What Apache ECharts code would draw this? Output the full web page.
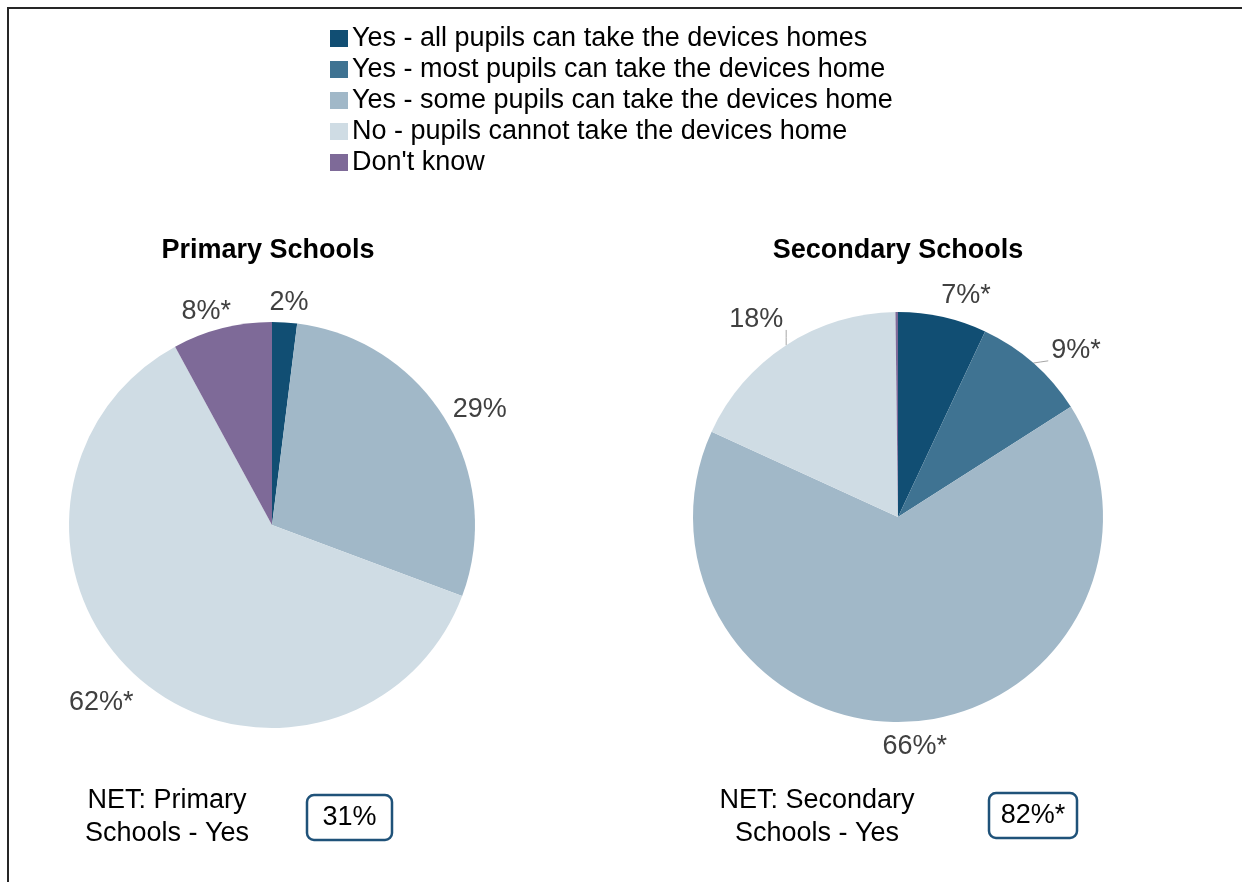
<!DOCTYPE html>
<html>
<head>
<meta charset="utf-8">
<title>Taking devices home</title>
<script src="https://cdn.jsdelivr.net/npm/echarts@6/dist/echarts.min.js"></script>
<style>
  html, body { margin: 0; padding: 0; background: #ffffff; }
  #chart { width: 1242px; height: 882px; }
</style>
</head>
<body>
<div id="chart"></div>
<script>
// Answer categories (shared legend)
const categories = [
  'Yes - all pupils can take the devices homes',
  'Yes - most pupils can take the devices home',
  'Yes - some pupils can take the devices home',
  'No - pupils cannot take the devices home',
  "Don't know"
];

// Percentages per school phase
const primaryValues   = [2, 0, 29, 62, 8];
const secondaryValues = [7, 9, 66, 18, 0.2];

// Data label texts (asterisk = significant difference)
const primaryLabels   = ['2%', '', '29%', '62%*', '8%*'];
const secondaryLabels = ['7%*', '9%*', '66%*', '18%', ''];

// Panel titles and NET summaries
const panelTitles = ['Primary Schools', 'Secondary Schools'];
const netCaptions = ['NET: Primary\nSchools - Yes', 'NET: Secondary\nSchools - Yes'];
const netValues   = ['31%', '82%*'];

// Styling
const sliceColors = ['#114e73', '#3f7392', '#a1b8c8', '#cfdce4', '#7e6a98'];
const FONT = '"Liberation Sans", Arial, Helvetica, sans-serif';

// Layout of each pie: centre, radius, label gap from the rim, label nudges, leader-line flags
const pieLayouts = [
  {
    center: [272, 525], radius: 203,
    gaps: [6, 6, 6, 12, 4],
    nudges: [[3, 1], [0, 0], [3, 9], [-9, -9], [-10, 6]],
    lines: [false, false, false, false, false]
  },
  {
    center: [898, 517], radius: 205,
    gaps: [6, 12, 6, 12, 6],
    nudges: [[18, 3], [17, 17], [1, 3], [-9, 7], [0, 0]],
    lines: [false, true, false, true, false]
  }
];

function midDirections(values) {
  const total = values.reduce((a, b) => a + b, 0);
  let cum = 0;
  return values.map(v => {
    const frac = (cum + v / 2) / total;
    cum += v;
    const t = frac * Math.PI * 2;
    return [Math.sin(t), -Math.cos(t)];
  });
}

function makeSeries(name, values, labels, layout) {
  const dirs = midDirections(values);
  const [cx, cy] = layout.center;
  const r = layout.radius;
  return {
    type: 'pie',
    name: name,
    center: layout.center,
    radius: [0, r],
    startAngle: 90,
    clockwise: true,
    avoidLabelOverlap: false,
    animation: false,
    silent: true,
    itemStyle: { borderWidth: 0 },
    label: {
      show: true,
      position: 'outside',
      fontFamily: FONT,
      fontSize: 27,
      color: '#404040',
      lineHeight: 28
    },
    labelLine: {
      show: false,
      length: 6,
      length2: 6,
      lineStyle: { color: '#a6a6a6', width: 1 }
    },
    labelLayout: function (params) {
      const i = params.dataIndex;
      const d = dirs[i];
      const w = params.labelRect.width;
      const h = params.labelRect.height;
      const support = Math.abs(d[0]) * w / 2 + Math.abs(d[1]) * h / 2;
      const dist = r + layout.gaps[i] + support;
      const lx = cx + d[0] * dist + layout.nudges[i][0];
      const ly = cy + d[1] * dist + layout.nudges[i][1];
      const ex = cx + d[0] * r;
      const ey = cy + d[1] * r;
      const nx = Math.min(Math.max(ex, lx - w / 2 - 3), lx + w / 2 + 3);
      const ny = Math.min(Math.max(ey, ly - h / 2 + 4), ly + h / 2 - 4);
      return {
        x: lx,
        y: ly,
        align: 'center',
        verticalAlign: 'middle',
        labelLinePoints: [[ex, ey], [(ex + nx) / 2, (ey + ny) / 2], [nx, ny]]
      };
    },
    data: categories.map((c, i) => ({
      name: c,
      value: values[i],
      itemStyle: { color: sliceColors[i] },
      label: { show: labels[i] !== '', formatter: labels[i] },
      labelLine: { show: layout.lines[i] }
    }))
  };
}

const netPositions = [
  { captionX: 167, boxX: 307, boxY: 795, boxW: 85, boxH: 45 },
  { captionX: 817, boxX: 989, boxY: 793, boxW: 88, boxH: 45 }
];
const titleX = [268, 898];

const graphics = [
  {
    type: 'rect',
    silent: true,
    shape: { x: 8, y: 8, width: 1300, height: 1000 },
    style: { fill: 'none', stroke: '#262626', lineWidth: 2 }
  }
];

panelTitles.forEach((t, i) => {
  graphics.push({
    type: 'text',
    silent: true,
    x: titleX[i],
    y: 251,
    style: {
      text: t,
      font: 'bold 27px ' + FONT,
      fill: '#000000',
      align: 'center', verticalAlign: 'middle',
      textAlign: 'center', textVerticalAlign: 'middle'
    }
  });
});

netCaptions.forEach((t, i) => {
  const p = netPositions[i];
  graphics.push({
    type: 'text',
    silent: true,
    x: p.captionX,
    y: 817,
    style: {
      text: t,
      font: '27px ' + FONT,
      lineHeight: 33,
      fill: '#000000',
      align: 'center', verticalAlign: 'middle',
      textAlign: 'center', textVerticalAlign: 'middle'
    }
  });
  graphics.push({
    type: 'rect',
    silent: true,
    shape: { x: p.boxX, y: p.boxY, width: p.boxW, height: p.boxH, r: 7 },
    style: { fill: '#ffffff', stroke: '#1f5279', lineWidth: 2.5 }
  });
  graphics.push({
    type: 'text',
    silent: true,
    x: p.boxX + p.boxW / 2,
    y: p.boxY + p.boxH / 2,
    style: {
      text: netValues[i],
      font: '27px ' + FONT,
      fill: '#000000',
      align: 'center', verticalAlign: 'middle',
      textAlign: 'center', textVerticalAlign: 'middle'
    }
  });
});

const chart = echarts.init(document.getElementById('chart'), null, { renderer: 'canvas' });
chart.setOption({
  backgroundColor: '#ffffff',
  animation: false,
  legend: {
    orient: 'vertical',
    left: 330,
    top: 23,
    padding: 0,
    itemWidth: 18,
    itemHeight: 17,
    itemGap: 0,
    icon: 'rect',
    selectedMode: false,
    data: categories,
    textStyle: {
      fontFamily: FONT,
      fontSize: 27,
      color: '#000000',
      lineHeight: 31,
      padding: [0, 0, 0, -1]
    }
  },
  series: [
    makeSeries('Primary Schools', primaryValues, primaryLabels, pieLayouts[0]),
    makeSeries('Secondary Schools', secondaryValues, secondaryLabels, pieLayouts[1])
  ],
  graphic: graphics
});
</script>
</body>
</html>
